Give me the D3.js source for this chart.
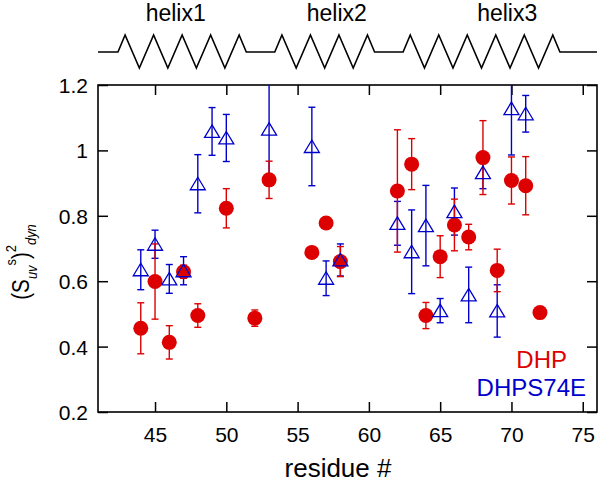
<!DOCTYPE html>
<html>
<head>
<meta charset="utf-8">
<script src="https://cdn.jsdelivr.net/npm/d3@7"></script>
<style>
  html, body { margin: 0; padding: 0; background: #fff; }
  svg { display: block; font-family: "Liberation Sans", Arial, Helvetica, sans-serif; }
</style>
</head>
<body>
<svg id="chart" width="600" height="482"></svg>
<script>
// ---- data ----
const dhpRes = [44, 45, 46, 47, 48, 50, 52, 53, 56, 57, 58, 62, 63, 64, 65, 66, 67, 68, 69, 70, 71, 72];
const dhpVal = [0.456, 0.599, 0.413, 0.629, 0.495, 0.823, 0.487, 0.910, 0.688, 0.778, 0.660, 0.876, 0.958, 0.495, 0.675, 0.772, 0.735, 0.978, 0.633, 0.908, 0.892, 0.504];
const dhpErr = [0.078, 0.115, 0.051, 0.020, 0.036, 0.060, 0.025, 0.057, 0.015, 0.015, 0.046, 0.187, 0.078, 0.040, 0.064, 0.079, 0.039, 0.113, 0.065, 0.072, 0.089, 0.010];

const mutRes = [44, 45, 46, 47, 48, 49, 50, 53, 56, 57, 58, 62, 63, 64, 65, 66, 67, 68, 69, 70, 71];
const mutVal = [0.635, 0.713, 0.607, 0.632, 0.898, 1.058, 1.038, 1.065, 1.012, 0.609, 0.665, 0.777, 0.690, 0.770, 0.510, 0.813, 0.558, 0.932, 0.509, 1.128, 1.112];
const mutErr = [0.061, 0.043, 0.044, 0.043, 0.089, 0.073, 0.072, 0.155, 0.120, 0.053, 0.049, 0.067, 0.128, 0.123, 0.037, 0.072, 0.085, 0.049, 0.080, 0.142, 0.056];

const xTicks = [45, 50, 55, 60, 65, 70, 75];
const yTicks = [0.2, 0.4, 0.6, 0.8, 1.0, 1.2];
const yTickLabels = ["0.2", "0.4", "0.6", "0.8", "1", "1.2"];

const helixNames = ["helix1", "helix2", "helix3"];
const helixStart = [42.4, 53.4, 62.4];
const helixHalfTurns = [9, 7, 11];
const helixLabelX = [46.45, 57.75, 69.7];

const seriesNames = ["DHP", "DHPS74E"];
const seriesColors = ["#dd0000", "#0000cc"];

// ---- layout ----
const svg = d3.select("#chart");
const L = 98, R = 597, T = 85, B = 412;
const x = d3.scaleLinear().domain([41, 76]).range([L, R]);
const y = d3.scaleLinear().domain([0.2, 1.2]).range([B, T]);

svg.append("defs").append("clipPath").attr("id", "clip")
  .append("rect").attr("x", L).attr("y", T).attr("width", R - L).attr("height", B - T);

// ---- helix header ----
const baseY = 52, peakY = 35, troughY = 68;
const hpts = [[x.domain()[0], baseY]];
helixStart.forEach((s, i) => {
  hpts.push([s, baseY]);
  for (let k = 0; k < helixHalfTurns[i]; k++) {
    hpts.push([s + 0.5 + k, k % 2 === 0 ? peakY : troughY]);
  }
  hpts.push([s + helixHalfTurns[i], baseY]);
});
hpts.push([x.domain()[1], baseY]);
svg.append("path")
  .attr("d", d3.line().x(d => x(d[0])).y(d => d[1])(hpts))
  .attr("fill", "none").attr("stroke", "#000").attr("stroke-width", 1.6)
  .attr("stroke-linejoin", "miter");
svg.selectAll(".hlab").data(helixNames).join("text")
  .attr("x", (d, i) => x(helixLabelX[i])).attr("y", 21)
  .attr("text-anchor", "middle").attr("font-size", 23).text(d => d);

// ---- axes (inward ticks, all four sides) ----
const tk = 10;
const gx = svg.append("g").attr("transform", `translate(0,${B})`)
  .call(d3.axisBottom(x).tickValues(xTicks).tickSizeInner(-tk).tickSizeOuter(0).tickPadding(15));
const gxt = svg.append("g").attr("transform", `translate(0,${T})`)
  .call(d3.axisTop(x).tickValues(xTicks).tickSizeInner(-tk).tickSizeOuter(0).tickFormat(""));
const gy = svg.append("g").attr("transform", `translate(${L},0)`)
  .call(d3.axisLeft(y).tickValues(yTicks).tickSizeInner(-tk).tickSizeOuter(0).tickPadding(10)
    .tickFormat((d, i) => yTickLabels[i]));
const gyr = svg.append("g").attr("transform", `translate(${R},0)`)
  .call(d3.axisRight(y).tickValues(yTicks).tickSizeInner(-tk).tickSizeOuter(0).tickFormat(""));
[gx, gxt, gy, gyr].forEach(g => {
  g.select(".domain").remove();
  g.selectAll(".tick line").attr("stroke", "#000").attr("stroke-width", 1.5);
  g.selectAll("text").attr("font-size", 21).attr("fill", "#000")
    .attr("font-family", "'Liberation Sans', Arial, sans-serif");
});
gy.selectAll("text").attr("dy", "0.36em");

svg.append("rect").attr("x", L).attr("y", T).attr("width", R - L).attr("height", B - T)
  .attr("fill", "none").attr("stroke", "#000").attr("stroke-width", 1.6);

// ---- data layers ----
const plot = svg.append("g").attr("clip-path", "url(#clip)");
const cap = 3.5;
function errorBars(g, res, val, err, color) {
  const data = res.map((r, i) => ({ r, v: val[i], e: err[i] }));
  const eg = g.append("g").attr("stroke", color).attr("stroke-width", 1.4).attr("fill", "none");
  eg.selectAll(".v").data(data).join("line")
    .attr("x1", d => x(d.r)).attr("x2", d => x(d.r))
    .attr("y1", d => y(d.v - d.e)).attr("y2", d => y(d.v + d.e));
  eg.selectAll(".t").data(data).join("line")
    .attr("x1", d => x(d.r) - cap).attr("x2", d => x(d.r) + cap)
    .attr("y1", d => y(d.v + d.e)).attr("y2", d => y(d.v + d.e));
  eg.selectAll(".b").data(data).join("line")
    .attr("x1", d => x(d.r) - cap).attr("x2", d => x(d.r) + cap)
    .attr("y1", d => y(d.v - d.e)).attr("y2", d => y(d.v - d.e));
  return data;
}
const mutData = errorBars(plot, mutRes, mutVal, mutErr, seriesColors[1]);
const dhpData = errorBars(plot, dhpRes, dhpVal, dhpErr, seriesColors[0]);
plot.append("g").selectAll("circle").data(dhpData).join("circle")
  .attr("cx", d => x(d.r)).attr("cy", d => y(d.v)).attr("r", 7.5)
  .attr("fill", seriesColors[0]);
plot.append("g").selectAll("path").data(mutData).join("path")
  .attr("transform", d => `translate(${x(d.r)},${y(d.v)})`)
  .attr("d", "M0,-6.5L7.5,6L-7.5,6Z")
  .attr("fill", "none").attr("stroke", seriesColors[1]).attr("stroke-width", 1.3);

// ---- legend ----
svg.append("text").attr("x", 567).attr("y", 368).attr("text-anchor", "end")
  .attr("font-size", 24).attr("fill", seriesColors[0]).text(seriesNames[0]);
svg.append("text").attr("x", 586).attr("y", 396).attr("text-anchor", "end")
  .attr("font-size", 24).attr("fill", seriesColors[1]).text(seriesNames[1]);

// ---- axis titles ----
svg.append("text").attr("x", 338).attr("y", 477).attr("text-anchor", "middle")
  .attr("font-size", 26).text("residue #");

const yl = svg.append("text").attr("transform", "translate(29,262) rotate(-90) scale(0.86,1)")
  .attr("text-anchor", "middle").attr("font-size", 24);
yl.append("tspan").text("(S");
yl.append("tspan").attr("font-size", 15).attr("font-style", "italic").attr("dy", 8).text("uv");
yl.append("tspan").attr("font-size", 15).attr("dy", -21).text("s");
yl.append("tspan").attr("dy", 13).text(")");
yl.append("tspan").attr("font-size", 15).attr("dy", -13).text("2");
yl.append("tspan").attr("font-size", 15).attr("font-style", "italic").attr("dy", 20).text("dyn");
</script>
</body>
</html>
